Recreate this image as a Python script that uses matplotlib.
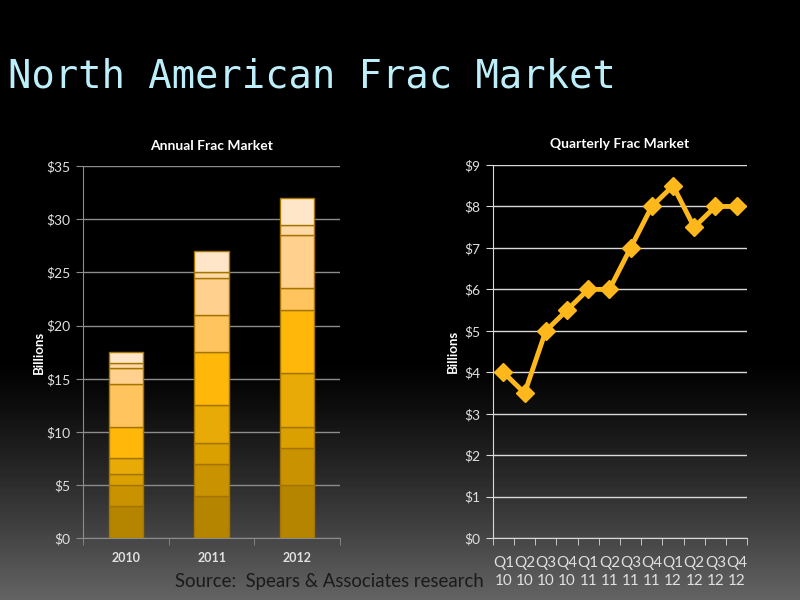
import matplotlib
matplotlib.use("Agg")
import matplotlib.pyplot as plt
import numpy as np

# Annual frac market, stacked segments in $ billions (bottom to top)
years = ["2010", "2011", "2012"]
seg_2010 = [3, 2, 1, 1.5, 3, 4, 1.5, 0.5, 1]
seg_2011 = [4, 3, 2, 3.5, 5, 3.5, 3.5, 0.5, 2]
seg_2012 = [5, 3.5, 2, 5, 6, 2, 5, 1, 2.5]
seg_colors = ["#b58500", "#c99200", "#d9a000", "#e8aa06", "#ffb70a",
              "#ffc45e", "#ffd08e", "#ffd9a5", "#ffe6c8"]

# Quarterly frac market, $ billions
quarters = ["Q1\n10", "Q2\n10", "Q3\n10", "Q4\n10", "Q1\n11", "Q2\n11",
            "Q3\n11", "Q4\n11", "Q1\n12", "Q2\n12", "Q3\n12", "Q4\n12"]
quarterly = [4, 3.5, 5, 5.5, 6, 6, 7, 8, 8.5, 7.5, 8, 8]

plt.rcParams['font.family'] = ['Lato', 'DejaVu Sans']

fig = plt.figure(figsize=(8, 6), dpi=100)

# background gradient: black on top, grey towards bottom
bg = fig.add_axes([0, 0, 1, 1], zorder=-10)
ypix = np.arange(600)
v = np.clip((ypix - 360) / 240, 0, 1) ** 1.2 * 100 / 255
grad = np.repeat(v[:, None], 2, axis=1)
bg.imshow(grad, cmap="gray", vmin=0, vmax=1, aspect="auto", extent=[0, 1, 0, 1], origin="upper")
bg.axis("off")

fig.text(0.01, 0.872, "North American Frac Market", family="DejaVu Sans Mono",
         fontsize=28, color="#bdeffb", ha="left", va="center")

tick_col = "#e0e0e0"

# ---- stacked bars ----
ax1 = fig.add_axes([0.104, 0.103, 0.321, 0.620])
ax1.set_facecolor("none")
x = np.arange(len(years))
bottoms = np.zeros(len(years))
segs = np.array([seg_2010, seg_2011, seg_2012])
for i, c in enumerate(seg_colors):
    ax1.bar(x, segs[:, i], bottom=bottoms, width=0.4, color=c,
            edgecolor="#a57400", linewidth=1, zorder=3)
    bottoms += segs[:, i]
ax1.set_ylim(0, 35)
ax1.set_xlim(-0.5, 2.5)
ax1.set_yticks(range(0, 36, 5))
ax1.set_yticklabels([f"${v}" for v in range(0, 36, 5)])
ax1.set_xticks(x)
ax1.set_xticklabels(years, fontweight="bold")
ax1.set_xticks([-0.5, 0.5, 1.5, 2.5], minor=True)
ax1.tick_params(axis="x", which="major", length=0, pad=10, colors=tick_col, labelsize=9)
ax1.tick_params(axis="x", which="minor", length=5, color="#8c8c8c")
ax1.tick_params(axis="y", length=5, color="#8c8c8c", colors=tick_col, labelsize=10, pad=4)
ax1.grid(axis="y", color="#8c8c8c", linewidth=1, zorder=0)
for s in ["top", "right"]:
    ax1.spines[s].set_visible(False)
for s in ["left", "bottom"]:
    ax1.spines[s].set_color("#8c8c8c")
ax1.set_ylabel("Billions", color="white", fontweight="bold", fontsize=9.5, labelpad=1)
ax1.set_title("Annual Frac Market", color="white", fontweight="bold", fontsize=10, pad=12)

# ---- quarterly line ----
ax2 = fig.add_axes([0.616, 0.103, 0.318, 0.622])
ax2.set_facecolor("none")
xq = np.arange(len(quarters))
ax2.plot(xq, quarterly, color="#ffb81c", linewidth=3.5, marker="D",
         markersize=9, markeredgecolor="#ffb81c", zorder=3)
ax2.set_ylim(0, 9)
ax2.set_xlim(-0.5, 11.5)
ax2.set_yticks(range(0, 10))
ax2.set_yticklabels([f"${v}" for v in range(0, 10)])
ax2.set_xticks(xq)
ax2.set_xticklabels(quarters, linespacing=1.3)
ax2.set_xticks(np.arange(-0.5, 12, 1), minor=True)
ax2.tick_params(axis="x", which="major", length=0, pad=13, colors=tick_col, labelsize=11)
ax2.tick_params(axis="x", which="minor", length=5, color="#d9d9d9")
ax2.tick_params(axis="y", length=5, color="#d9d9d9", colors=tick_col, labelsize=10, pad=4)
ax2.grid(axis="y", color="#d9d9d9", linewidth=1, zorder=0)
for s in ["top", "right"]:
    ax2.spines[s].set_visible(False)
for s in ["left", "bottom"]:
    ax2.spines[s].set_color("#d9d9d9")
ax2.set_ylabel("Billions", color="white", fontweight="bold", fontsize=9.5, labelpad=4)
ax2.set_title("Quarterly Frac Market", color="white", fontweight="bold", fontsize=10, pad=12)

fig.text(0.219, 0.031, "Source:  Spears & Associates research", color="#1a1a1a",
         fontsize=13.4, ha="left", va="center")

fig.savefig("out.png", dpi=100)
